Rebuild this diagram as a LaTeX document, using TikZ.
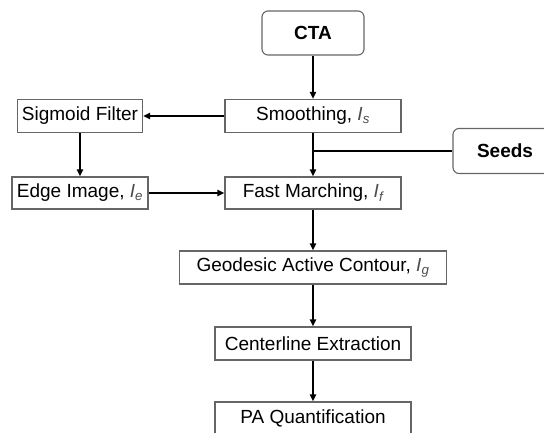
\documentclass[tikz,border=0pt]{standalone}
\usepackage{fontspec}
\setmainfont{Liberation Sans}
\usetikzlibrary{arrows.meta}
\newcommand{\ivar}[1]{{\color{black!70}\itshape I\textsubscript{#1}}}
\begin{document}
\begin{tikzpicture}[x=1pt,y=-1pt,
  box/.style={draw=black!60,line width=1.1pt,minimum height=33pt,inner sep=0pt,font=\fontsize{19}{21}\selectfont},
  rbox/.style={box,rounded corners=6pt,font=\fontsize{19}{21}\selectfont\bfseries},
  arr/.style={-{Triangle[length=7pt,width=6pt]},line width=1.9pt},
  ln/.style={line width=1.9pt}]
\useasboundingbox (0,0) rectangle (544,433);
\clip (0,0) rectangle (544,433);
\node[rbox,minimum width=102pt,minimum height=44pt] (cta) at (313,33) {CTA};
\node[box,minimum width=176pt] (smooth) at (313,116) {Smoothing, \ivar{s}};
\node[box,minimum width=125pt] (sig) at (80,116) {Sigmoid Filter};
\node[rbox,minimum width=104pt,minimum height=45pt] (seeds) at (505,151) {Seeds};
\node[box,minimum width=136pt,minimum height=32pt] (edge) at (80,193) {Edge Image, \ivar{e}};
\node[box,minimum width=176pt,minimum height=32pt] (fast) at (313,193) {Fast Marching, \ivar{f}};
\node[box,minimum width=267pt] (geo) at (313,267.5) {Geodesic Active Contour, \ivar{g}};
\node[box,minimum width=196pt] (cent) at (313,343.5) {Centerline Extraction};
\node[box,minimum width=196pt] (pa) at (313,418.5) {PA Quantification};
\coordinate (j) at (smooth.south |- seeds.west);
\draw[arr] (cta) -- (smooth);
\draw[arr] (smooth) -- (sig);
\draw[arr] (sig) -- (edge);
\draw[arr] (edge) -- (fast);
\draw[arr] (smooth) -- (fast);
\draw[ln] (seeds.west) -- (j);
\draw[arr] (fast) -- (geo);
\draw[arr] (geo) -- (cent);
\draw[arr] (cent) -- (pa);
\end{tikzpicture}
\end{document}
